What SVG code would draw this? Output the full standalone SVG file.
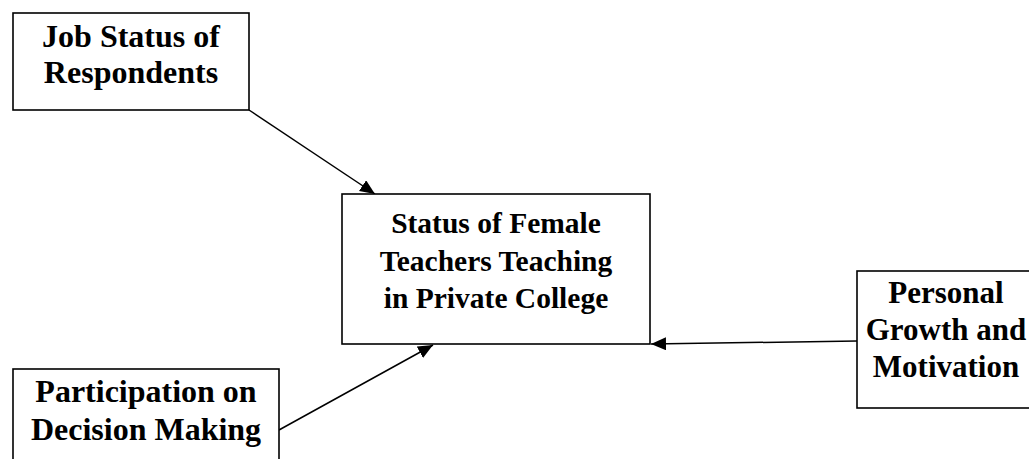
<svg xmlns="http://www.w3.org/2000/svg" width="1029" height="459" viewBox="0 0 1029 459">
<style>
.box{fill:#fff;stroke:#000;stroke-width:1.6}
.t{font-family:"Liberation Serif","Times New Roman",serif;font-weight:bold;font-size:32px;fill:#000;text-anchor:middle}
.s{font-size:29.5px}
.m{font-size:31px}
.c{stroke:#000;stroke-width:1.5;fill:none}
</style>
<defs>
<marker id="arr" markerUnits="userSpaceOnUse" markerWidth="16" markerHeight="14" refX="15" refY="6.5" orient="auto">
<path d="M0,0 L15,6.5 L0,13 Z" fill="#000"/>
</marker>
</defs>
<rect width="1029" height="459" fill="#fff"/>
<g id="connectors">
<line class="c" x1="249" y1="110" x2="375" y2="194" marker-end="url(#arr)"/>
<line class="c" x1="279" y1="430" x2="433" y2="345" marker-end="url(#arr)"/>
<line class="c" x1="857" y1="341" x2="651" y2="344" marker-end="url(#arr)"/>
</g>
<g id="job-status">
<rect class="box" x="13" y="13" width="236" height="97"/>
<text class="t" x="131" y="47">Job Status of</text>
<text class="t" x="131" y="83">Respondents</text>
</g>
<g id="status-female">
<rect class="box" x="342" y="194" width="308" height="150"/>
<text class="t s" x="496" y="233">Status of Female</text>
<text class="t s" x="496" y="271">Teachers Teaching</text>
<text class="t s" x="496" y="308">in Private College</text>
</g>
<g id="personal-growth">
<rect class="box" x="857" y="271" width="180" height="137"/>
<text class="t m" x="946" y="303">Personal</text>
<text class="t m" x="946" y="340">Growth and</text>
<text class="t m" x="946" y="377">Motivation</text>
</g>
<g id="participation">
<rect class="box" x="13" y="369" width="266" height="100"/>
<text class="t" x="146" y="402">Participation on</text>
<text class="t" x="146" y="440">Decision Making</text>
</g>
</svg>
